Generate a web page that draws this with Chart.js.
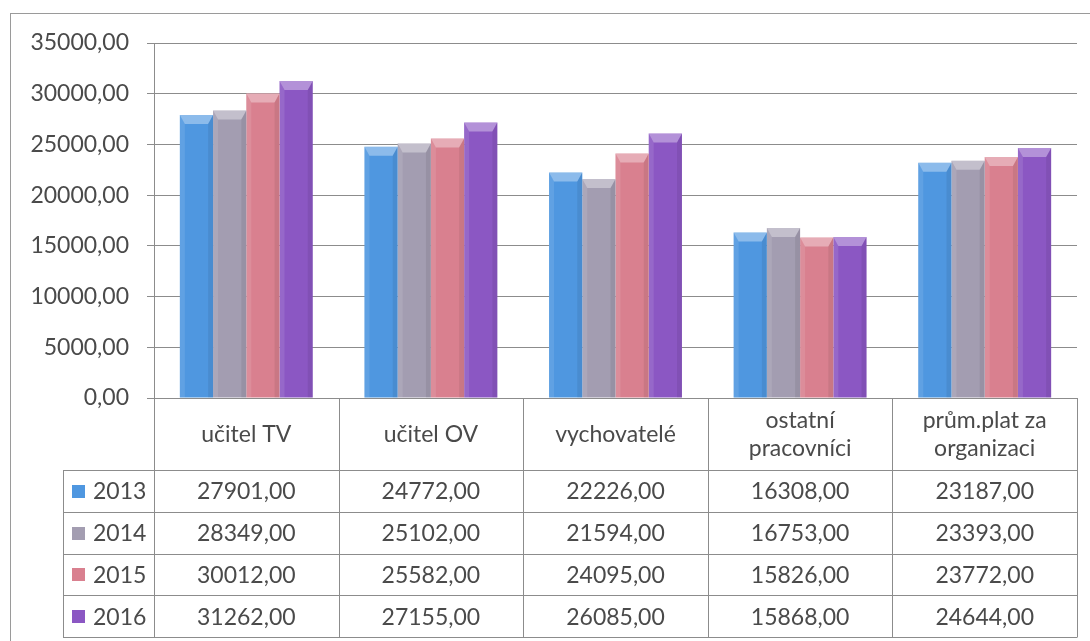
<!DOCTYPE html>
<html>
<head>
<meta charset="utf-8">
<script src="https://cdn.jsdelivr.net/npm/chart.js@4/dist/chart.umd.min.js"></script>
<style>
  html, body { margin: 0; padding: 0; background: #ffffff; }
  #wrap { width: 1090px; height: 641px; }
</style>
</head>
<body>
<div id="wrap"><canvas id="myChart"></canvas></div>
<script>
// categories (header row of the data table), multi-line ones as arrays
const categories = [['učitel TV'], ['učitel OV'], ['vychovatelé'], ['ostatní', 'pracovníci'], ['prům.plat za', 'organizaci']];
const years = ['2013', '2014', '2015', '2016'];

const values2013 = [27901, 24772, 22226, 16308, 23187];
const values2014 = [28349, 25102, 21594, 16753, 23393];
const values2015 = [30012, 25582, 24095, 15826, 23772];
const values2016 = [31262, 27155, 26085, 15868, 24644];

const yMin = 0, yMax = 35000, yStep = 5000;

const colors = ['#4f97e0', '#a39db1', '#d9808f', '#8b57c3'];
const TEXT = '#4a4a4a';
const LINE = '#8c8c8c';
const FONT = 'Lato, "Open Sans", sans-serif';

// czech style number: 27901,00
const fmt = v => v.toFixed(2).replace('.', ',');

// frame round the whole chart
const framePlugin = {
  id: 'frame',
  beforeDraw(chart) {
    const ctx = chart.ctx;
    ctx.save();
    ctx.fillStyle = '#ffffff';
    ctx.fillRect(0, 0, chart.width, chart.height);
    ctx.strokeStyle = '#9a9a9a';
    ctx.lineWidth = 1;
    ctx.strokeRect(10.5, 13.5, chart.width + 20, chart.height + 20);
    ctx.restore();
  }
};

// a bit of the excel bevel on top of every bar
const bevelPlugin = {
  id: 'bevel',
  afterDatasetsDraw(chart) {
    const ctx = chart.ctx;
    ctx.save();
    chart.data.datasets.forEach((ds, di) => {
      chart.getDatasetMeta(di).data.forEach(bar => {
        const l = bar.x - bar.width / 2, r = bar.x + bar.width / 2;
        const t = bar.y, b = bar.base, d = 5, h = 9;
        ctx.fillStyle = 'rgba(255,255,255,0.35)';
        ctx.beginPath();
        ctx.moveTo(l, t); ctx.lineTo(r, t); ctx.lineTo(r - d, t + h); ctx.lineTo(l + d, t + h);
        ctx.closePath(); ctx.fill();
        ctx.fillStyle = 'rgba(0,0,0,0.07)';
        ctx.beginPath();
        ctx.moveTo(r, t); ctx.lineTo(r, b); ctx.lineTo(r - d, b); ctx.lineTo(r - d, t + h);
        ctx.closePath(); ctx.fill();
        ctx.fillStyle = 'rgba(255,255,255,0.10)';
        ctx.beginPath();
        ctx.moveTo(l, t); ctx.lineTo(l + d, t + h); ctx.lineTo(l + d, b); ctx.lineTo(l, b);
        ctx.closePath(); ctx.fill();
      });
    });
    ctx.restore();
  }
};

// data table under the plot, the way excel puts it
const tablePlugin = {
  id: 'dataTable',
  afterDraw(chart) {
    const ctx = chart.ctx;
    const a = chart.chartArea;
    const x = chart.scales.x;
    const n = chart.data.labels.length;
    const colW = (a.right - a.left) / n;
    const headTop = a.bottom;
    const headBot = a.bottom + 72;
    const rowH = 41.75;
    const legLeft = 63;
    const rows = chart.data.datasets.length;
    const bottom = headBot + rows * rowH;

    ctx.save();
    ctx.strokeStyle = LINE;
    ctx.lineWidth = 1;
    ctx.beginPath();
    for (let r = 0; r <= rows; r++) {
      const y = Math.round(headBot + r * rowH) + 0.5;
      ctx.moveTo(legLeft, y); ctx.lineTo(a.right, y);
    }
    for (let i = 0; i <= n; i++) {
      const xx = Math.round(a.left + i * colW) + 0.5;
      ctx.moveTo(xx, headTop); ctx.lineTo(xx, Math.round(bottom) + 0.5);
    }
    ctx.moveTo(legLeft + 0.5, Math.round(headBot) + 0.5);
    ctx.lineTo(legLeft + 0.5, Math.round(bottom) + 0.5);
    ctx.stroke();

    ctx.fillStyle = TEXT;
    ctx.font = '23px ' + FONT;
    ctx.textAlign = 'center';
    ctx.textBaseline = 'middle';

    // header
    chart.data.labels.forEach((lab, i) => {
      const cx = x.getPixelForTick(i);
      const lines = Array.isArray(lab) ? lab : [lab];
      const lh = 28;
      const cy = (headTop + headBot) / 2 + 1;
      lines.forEach((s, k) => {
        ctx.fillText(s, cx, cy + (k - (lines.length - 1) / 2) * lh);
      });
    });

    // rows
    chart.data.datasets.forEach((ds, r) => {
      const cy = headBot + r * rowH + rowH / 2 + 1;
      ctx.fillStyle = ds.backgroundColor;
      ctx.fillRect(72, Math.round(cy - 7), 13, 13);
      ctx.fillStyle = TEXT;
      ctx.textAlign = 'left';
      ctx.fillText(ds.label, 93, cy);
      ctx.textAlign = 'center';
      ds.data.forEach((v, i) => {
        ctx.fillText(fmt(v), x.getPixelForTick(i), cy);
      });
    });
    ctx.restore();
  }
};

const series = [values2013, values2014, values2015, values2016];

const data = {
  labels: categories,
  datasets: years.map((y, i) => ({
    label: y,
    data: series[i],
    backgroundColor: colors[i],
    borderWidth: 0,
    categoryPercentage: 0.72,
    barPercentage: 1.0
  }))
};

const config = {
  type: 'bar',
  data: data,
  options: {
    responsive: true,
    maintainAspectRatio: false,
    animation: false,
    layout: { padding: { left: 0, top: 43, right: 13, bottom: 243 } },
    plugins: {
      legend: { display: false },
      tooltip: { enabled: false }
    },
    scales: {
      x: {
        grid: { display: false },
        border: { display: true, color: LINE, width: 1 },
        ticks: { display: false },
        afterFit: s => { s.height = 0; }
      },
      y: {
        min: yMin,
        max: yMax,
        ticks: {
          stepSize: yStep,
          color: TEXT,
          padding: 18,
          font: { family: FONT, size: 23 },
          callback: v => fmt(v)
        },
        grid: { color: LINE, tickLength: 7, drawTicks: true },
        border: { display: true, color: LINE, width: 1 },
        afterFit: s => { s.width = 154; }
      }
    }
  },
  plugins: [framePlugin, bevelPlugin, tablePlugin]
};

const myChart = new Chart(document.getElementById('myChart'), config);
</script>
</body>
</html>
